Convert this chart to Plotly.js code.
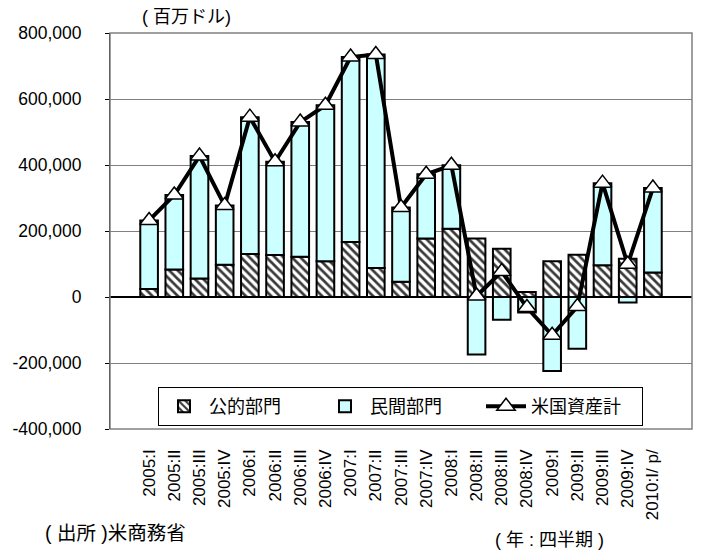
<!DOCTYPE html>
<html><head><meta charset="utf-8">
<script src="https://cdn.plot.ly/plotly-3.0.1.min.js"></script>
<style>body{margin:0;background:#fff}#c{width:702px;height:555px}</style>
</head><body><div id="c"></div>
<script>
const categories = ["2005:I","2005:II","2005:III","2005:IV","2006:I","2006:II","2006:III","2006:IV","2007:I","2007:II","2007:III","2007:IV","2008:I","2008:II","2008:III","2008:IV","2009:I","2009:II","2009:III","2009:IV","2010:I/ p/"];
const publicSector = [24000,83000,56000,98000,130000,127000,122000,108000,167000,88000,46000,177000,207000,177000,146000,15000,108000,128000,96000,116000,74000];
const privateSector = [208000,226000,371000,179000,415000,283000,408000,473000,560000,647000,225000,195000,192000,-174000,-69000,-47000,-224000,-157000,249000,-17000,256000];
const usAssetsTotal = [232000,309000,427000,277000,545000,410000,530000,581000,727000,735000,271000,372000,399000,3000,77000,-32000,-116000,-29000,345000,99000,330000];
const yTickVals = [-400000,-200000,0,200000,400000,600000,800000];
const yTickText = ["-400,000","-200,000","0","200,000","400,000","600,000","800,000"];
const seriesNames = ["公的部門","民間部門","米国資産計"];

const FONT = '"Liberation Sans", Arial, "Noto Sans CJK JP", sans-serif';
const traces = [
  {type:'bar', name:seriesNames[0], x:categories, y:publicSector,
   marker:{color:'#ffffff', line:{color:'#000', width:2},
     pattern:{shape:'\\', fgcolor:'#3a3a3a', bgcolor:'#ffffff', size:6, solidity:0.45}}},
  {type:'bar', name:seriesNames[1], x:categories, y:privateSector,
   marker:{color:'#ccffff', line:{color:'#000', width:2}}},
  {type:'scatter', mode:'lines+markers', name:seriesNames[2], x:categories, y:usAssetsTotal,
   line:{color:'#000', width:4},
   marker:{symbol:'triangle-up', size:16, color:'#fff', line:{color:'#000', width:1.5}}}
];
const layout = {
  width:702, height:555,
  margin:{l:110, r:10, t:33, b:126},
  paper_bgcolor:'#fff', plot_bgcolor:'#fff',
  font:{family:FONT, color:'#000'},
  barmode:'relative', bargap:0.3,
  showlegend:true,
  legend:{orientation:'h', x:(158-110)/582, y:(429-387)/396, xanchor:'left', yanchor:'top',
    bgcolor:'#fff', bordercolor:'#000', borderwidth:1, font:{size:18, family:FONT},
    traceorder:'normal', itemwidth:40, entrywidth:106, tracegroupgap:0},
  xaxis:{type:'category', tickangle:-90, tickfont:{size:17}, showline:false,
    ticks:'', showgrid:false, mirror:false, ticklabelstandoff:16},
  yaxis:{range:[-400000,800000], tickvals:yTickVals, ticktext:yTickText,
    tickfont:{size:17.5}, showgrid:true, gridcolor:'#808080', gridwidth:1,
    zeroline:true, zerolinecolor:'#000', zerolinewidth:1.5, ticklabelstandoff:20,
    showline:true, linecolor:'#000', linewidth:1, ticks:'outside', ticklen:4, tickcolor:'#000'},
  shapes:[{type:'rect', xref:'paper', yref:'paper', x0:0, x1:1, y0:0, y1:1, line:{color:'#808080', width:1.5}}],
  annotations:[
    {text:'( 百万ドル)', xref:'paper', yref:'paper', x:(140-110)/582, y:1, yshift:4, xanchor:'left', yanchor:'bottom', showarrow:false, font:{size:18}},
    {text:'( 出所 )米商務省', xref:'paper', yref:'paper', x:(43-110)/582, y:0, yshift:-(533-429), xanchor:'left', yanchor:'middle', showarrow:false, font:{size:19.5}},
    {text:'( 年 : 四半期 )', xref:'paper', yref:'paper', x:(493-110)/582, y:0, yshift:-(540-429), xanchor:'left', yanchor:'middle', showarrow:false, font:{size:18}}
  ]
};
Plotly.newPlot('c', traces, layout, {displayModeBar:false});
</script></body></html>
